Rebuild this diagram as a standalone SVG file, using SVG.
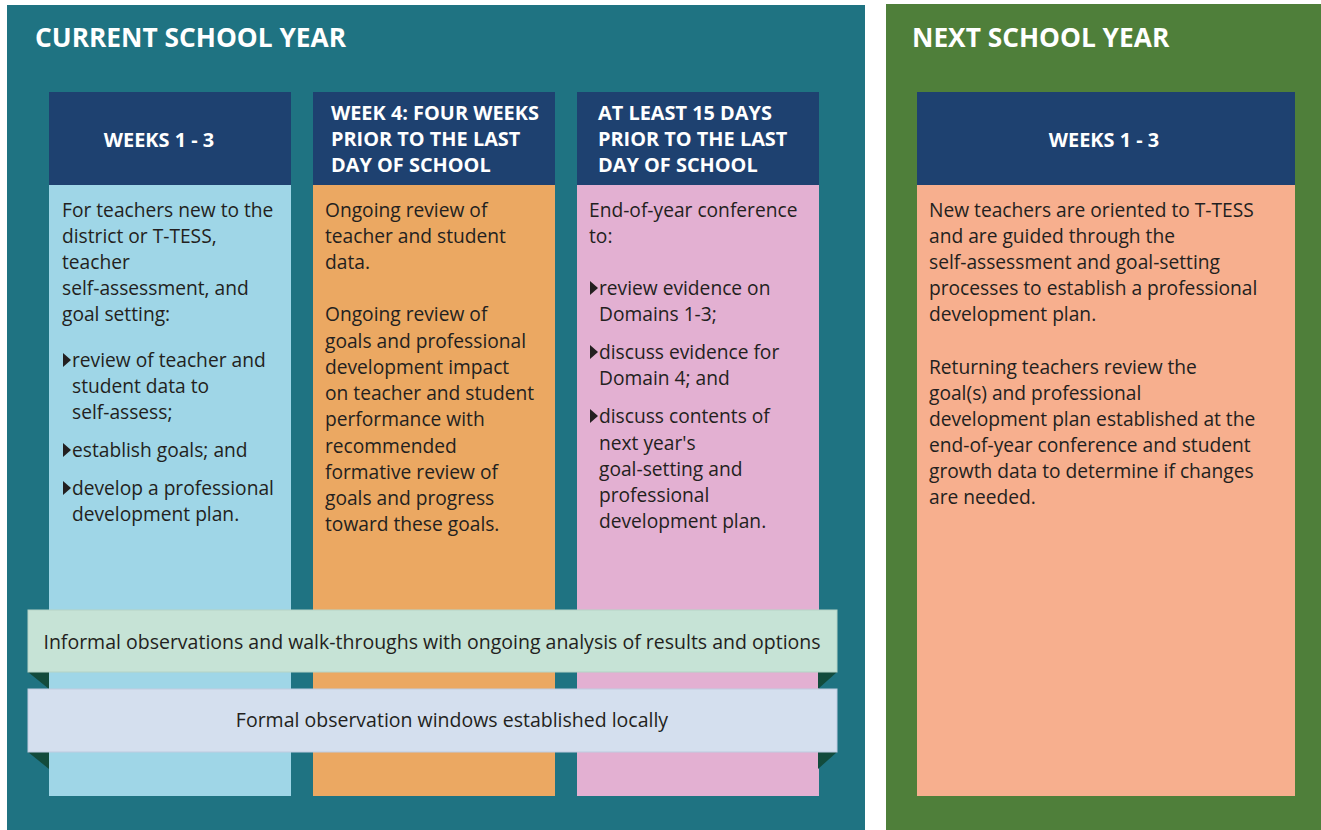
<svg xmlns="http://www.w3.org/2000/svg" width="1321" height="830" viewBox="0 0 1321 830">
<style>
.title{font-family:"Open Sans","Liberation Sans",sans-serif;font-weight:700;font-size:26.3px;fill:#fff}
.hd{font-family:"Open Sans","Liberation Sans",sans-serif;font-weight:700;font-size:19.9px;fill:#fff}
.bd{font-family:"Open Sans","Liberation Sans",sans-serif;font-size:19.2px;fill:#231f20}
.bn{font-family:"Open Sans","Liberation Sans",sans-serif;font-size:19.5px;fill:#231f20;text-anchor:middle}
.hdr{fill:#1e4170}
.fold{fill:#124b3c}
</style>
<defs>
<path id="bul" d="M0,-14 L8,-7 L0,0 Z" fill="#231f20"/>
</defs>
<rect width="1321" height="830" fill="#fff"/>
<g id="current-year">
<rect x="7" y="5" width="858" height="825" fill="#1f7382"/>
<text class="title" x="35" y="47">CURRENT SCHOOL YEAR</text>
</g>
<g id="next-year">
<rect x="886" y="4" width="435" height="826" fill="#4f7f3a"/>
<text class="title" x="912" y="47">NEXT SCHOOL YEAR</text>
</g>
<g id="col1">
<rect x="49" y="185" width="242" height="611" fill="#9fd6e7"/>
<rect class="hdr" x="49" y="92" width="242" height="93"/>
<text class="hd" x="159" y="147" text-anchor="middle">WEEKS 1 - 3</text>
<text class="bd" x="62">
<tspan y="217">For teachers new to the</tspan>
<tspan x="62" y="243">district or T-TESS,</tspan>
<tspan x="62" y="269">teacher</tspan>
<tspan x="62" y="295">self-assessment, and</tspan>
<tspan x="62" y="321">goal setting:</tspan>
</text>
<use href="#bul" x="63" y="367"/>
<text class="bd" x="72">
<tspan y="367">review of teacher and</tspan>
<tspan x="72" y="393">student data to</tspan>
<tspan x="72" y="419">self-assess;</tspan>
</text>
<use href="#bul" x="63" y="457"/>
<text class="bd" x="72" y="457">establish goals; and</text>
<use href="#bul" x="63" y="495"/>
<text class="bd" x="72">
<tspan y="495">develop a professional</tspan>
<tspan x="72" y="521">development plan.</tspan>
</text>
</g>
<g id="col2">
<rect x="313" y="185" width="242" height="611" fill="#eba862"/>
<rect class="hdr" x="313" y="92" width="242" height="93"/>
<text class="hd" x="331">
<tspan y="120">WEEK 4: FOUR WEEKS</tspan>
<tspan x="331" y="146">PRIOR TO THE LAST</tspan>
<tspan x="331" y="172">DAY OF SCHOOL</tspan>
</text>
<text class="bd" x="325">
<tspan y="217">Ongoing review of</tspan>
<tspan x="325" y="243">teacher and student</tspan>
<tspan x="325" y="269">data.</tspan>
<tspan x="325" y="321">Ongoing review of</tspan>
<tspan x="325" y="348">goals and professional</tspan>
<tspan x="325" y="374">development impact</tspan>
<tspan x="325" y="400">on teacher and student</tspan>
<tspan x="325" y="426">performance with</tspan>
<tspan x="325" y="453">recommended</tspan>
<tspan x="325" y="479">formative review of</tspan>
<tspan x="325" y="505">goals and progress</tspan>
<tspan x="325" y="531">toward these goals.</tspan>
</text>
</g>
<g id="col3">
<rect x="577" y="185" width="242" height="611" fill="#e3b0d2"/>
<rect class="hdr" x="577" y="92" width="242" height="93"/>
<text class="hd" x="598">
<tspan y="120">AT LEAST 15 DAYS</tspan>
<tspan x="598" y="146">PRIOR TO THE LAST</tspan>
<tspan x="598" y="172">DAY OF SCHOOL</tspan>
</text>
<text class="bd" x="589">
<tspan y="217">End-of-year conference</tspan>
<tspan x="589" y="243">to:</tspan>
</text>
<use href="#bul" x="590" y="295"/>
<text class="bd" x="599">
<tspan y="295">review evidence on</tspan>
<tspan x="599" y="321">Domains 1-3;</tspan>
</text>
<use href="#bul" x="590" y="359"/>
<text class="bd" x="599">
<tspan y="359">discuss evidence for</tspan>
<tspan x="599" y="385">Domain 4; and</tspan>
</text>
<use href="#bul" x="590" y="423"/>
<text class="bd" x="599">
<tspan y="423">discuss contents of</tspan>
<tspan x="599" y="450">next year's</tspan>
<tspan x="599" y="476">goal-setting and</tspan>
<tspan x="599" y="502">professional</tspan>
<tspan x="599" y="528">development plan.</tspan>
</text>
</g>
<g id="col4">
<rect x="917" y="185" width="378" height="611" fill="#f7af8e"/>
<rect class="hdr" x="917" y="92" width="378" height="93"/>
<text class="hd" x="1104" y="147" text-anchor="middle">WEEKS 1 - 3</text>
<text class="bd" x="929">
<tspan y="217">New teachers are oriented to T-TESS</tspan>
<tspan x="929" y="243">and are guided through the</tspan>
<tspan x="929" y="269">self-assessment and goal-setting</tspan>
<tspan x="929" y="295">processes to establish a professional</tspan>
<tspan x="929" y="321">development plan.</tspan>
<tspan x="929" y="374">Returning teachers review the</tspan>
<tspan x="929" y="400">goal(s) and professional</tspan>
<tspan x="929" y="426">development plan established at the</tspan>
<tspan x="929" y="452">end-of-year conference and student</tspan>
<tspan x="929" y="478">growth data to determine if changes</tspan>
<tspan x="929" y="504">are needed.</tspan>
</text>
</g>
<g id="banner-informal">
<polygon class="fold" points="28,672 49,672 49,689"/>
<polygon class="fold" points="837,672 818,672 818,689"/>
<rect x="28" y="610" width="809" height="62" fill="#c6e3d6" stroke="#b5d3c6" stroke-width="1"/>
<text class="bn" x="432" y="649">Informal observations and walk-throughs with ongoing analysis of results and options</text>
</g>
<g id="banner-formal">
<polygon class="fold" points="28,752 49,752 49,769"/>
<polygon class="fold" points="837,752 818,752 818,769"/>
<rect x="28" y="689" width="809" height="63" fill="#d4dfee" stroke="#bfcbe0" stroke-width="1"/>
<text class="bn" x="452" y="727">Formal observation windows established locally</text>
</g>
</svg>
